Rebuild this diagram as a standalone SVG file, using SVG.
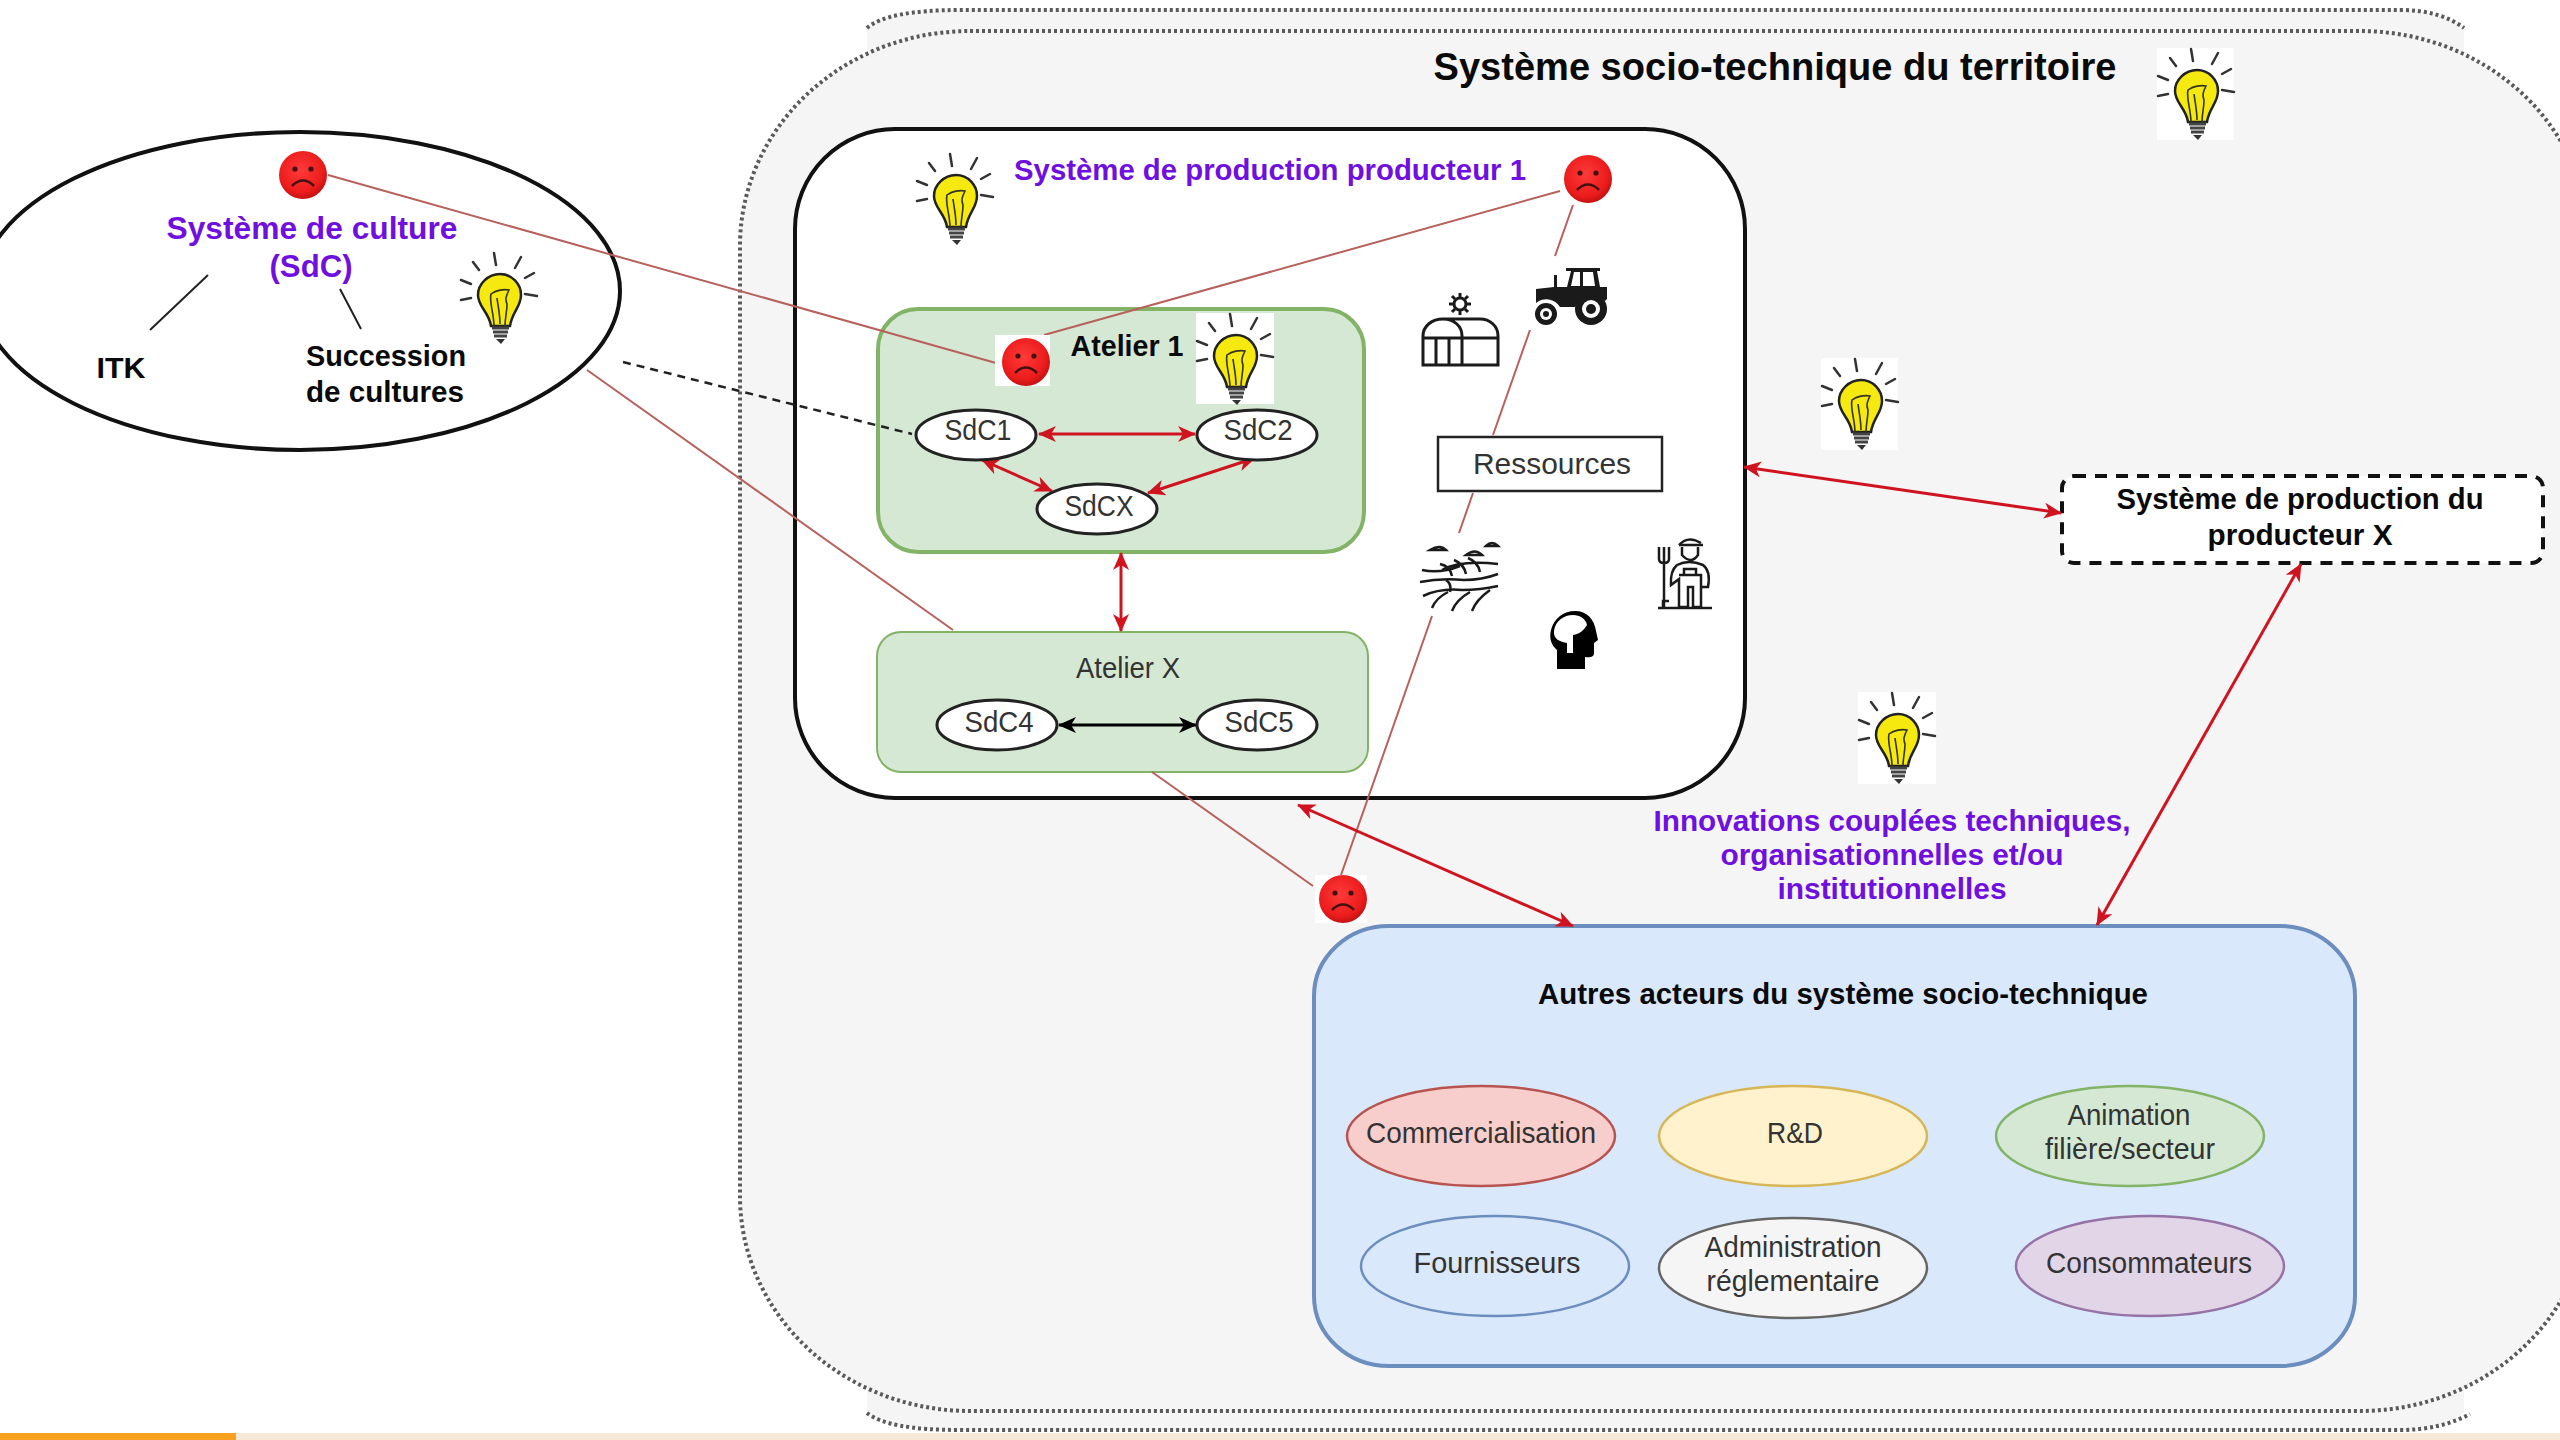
<svg xmlns="http://www.w3.org/2000/svg" width="2560" height="1440" viewBox="0 0 2560 1440">
<style>
text{font-family:"Liberation Sans",Arial,sans-serif;fill:#333;font-size:29px;text-anchor:middle}
.b{font-weight:bold;fill:#0a0a0a}
.p{font-weight:bold;fill:#6f0fe0}
.terr{stroke:#5a5a5a;stroke-width:4;stroke-dasharray:3 3;fill:none}
.sdc{fill:#fff;stroke:#222;stroke-width:3}
.red{stroke:#cf1420;stroke-width:3;fill:none;marker-start:url(#ar);marker-end:url(#ar)}
.blk{stroke:#000;stroke-width:3;fill:none;marker-start:url(#ab);marker-end:url(#ab)}
.pink{stroke:#b8605c;stroke-width:2;fill:none}
.ic{fill:none;stroke:#1a1a1a;stroke-width:3}
.act{stroke-width:2.5}
</style>
<defs>
<marker id="ar" viewBox="0 0 18 16" refX="17" refY="8" markerWidth="18" markerHeight="16" markerUnits="userSpaceOnUse" orient="auto-start-reverse"><path d="M0 0L18 8L0 16L5 8z" fill="#cf1420"/></marker>
<marker id="ab" viewBox="0 0 18 16" refX="17" refY="8" markerWidth="18" markerHeight="16" markerUnits="userSpaceOnUse" orient="auto-start-reverse"><path d="M0 0L18 8L0 16L5 8z" fill="#000"/></marker>
<radialGradient id="rg" cx=".45" cy=".4" r=".65"><stop offset="0" stop-color="#ff3a3a"/><stop offset=".7" stop-color="#ec1c1c"/><stop offset="1" stop-color="#b80f0f"/></radialGradient>
<symbol id="sad" viewBox="0 0 48 48" width="48" height="48" overflow="visible">
<circle cx="24" cy="24" r="24" fill="url(#rg)"/><circle cx="16" cy="18" r="2.6" fill="#411"/><circle cx="32" cy="18" r="2.6" fill="#411"/><path d="M13 35Q24 24 35 35" fill="none" stroke="#411" stroke-width="2.5"/>
</symbol>
<symbol id="bulb" viewBox="0 0 78 92" width="78" height="92" overflow="visible">
<g stroke="#333" stroke-width="2.5" stroke-linecap="round" fill="none"><path d="M34 1L36 13M13 10L19 18M61 5L55 16M74 21L65 26M1 28L11 32M1 48L11 46M65 42L77 44"/></g>
<path d="M40 22C52 22 61 32 61 43C61 55 52 60 50 74H31C29 60 18 55 18 43C18 32 28 22 40 22Z" fill="#f6e90f" stroke="#222" stroke-width="2.5"/>
<path d="M34 74C34 62 29 50 31 42C36 38 44 37 49 38C46 44 45 47 47 52C47 60 45 66 45 74M37 46C38 54 40 62 40 72" fill="none" stroke="#332" stroke-width="1.6"/>
<path d="M32 76H49M33 80H48M34 84H47" stroke="#444" stroke-width="3" fill="none"/><path d="M36 87H45L41 92Z" fill="#333"/>
</symbol>
</defs>

<rect id="bg" width="2560" height="1440" fill="#fff"/>

<g id="territoire">
<path d="M867 28Q880 10 960 10H2400Q2440 10 2464 28V1413Q2440 1430 2400 1430H960Q880 1430 867 1413Z" fill="#f5f5f5"/>
<path d="M867 1413Q888 1430 960 1430H2400Q2440 1430 2470 1414" class="terr"/>
<path d="M867 28Q888 10 960 10H2400Q2440 10 2464 28" class="terr"/>
<rect x="740" y="31" width="1850" height="1380" rx="230" ry="215" class="terr" style="fill:#f5f5f5"/>
<text x="1775" y="80" class="b" style="font-size:38px" textLength="683" lengthAdjust="spacingAndGlyphs">Système socio-technique du territoire</text>
</g>

<g id="production-1">
<rect x="795" y="129" width="950" height="669" rx="100" ry="100" fill="#fff" stroke="#111" stroke-width="4"/>
<text x="1270" y="180" class="p" style="font-size:29px" textLength="512" lengthAdjust="spacingAndGlyphs">Système de production producteur 1</text>
</g>
<g id="atelier-1">
<rect x="878" y="309" width="486" height="243" rx="40" fill="#d5e8d4" stroke="#82b366" stroke-width="4"/>
</g>
<g id="atelier-x">
<rect x="877" y="632" width="491" height="140" rx="24" fill="#d5e8d4" stroke="#82b366" stroke-width="2"/>
<text x="1128" y="678" textLength="104" lengthAdjust="spacingAndGlyphs">Atelier X</text>
</g>
<g id="acteurs">
<rect x="1314" y="926" width="1041" height="440" rx="75" ry="70" fill="#dae8fc" stroke="#6c8ebf" stroke-width="4"/>
<text x="1843" y="1004" class="b" textLength="610" lengthAdjust="spacingAndGlyphs">Autres acteurs du système socio-technique</text>
</g>
<g id="systeme-culture">
<ellipse cx="300" cy="291" rx="320" ry="159" fill="#fff" stroke="#111" stroke-width="4"/>
<text x="312" y="239" class="p" style="font-size:32px" textLength="291" lengthAdjust="spacingAndGlyphs">Système de culture</text>
<text x="311" y="277" class="p" style="font-size:32px" textLength="83" lengthAdjust="spacingAndGlyphs">(SdC)</text>
<text x="121" y="378" class="b" style="font-size:30px" textLength="49" lengthAdjust="spacingAndGlyphs">ITK</text>
<text x="386" y="366" class="b" style="font-size:30px" textLength="160" lengthAdjust="spacingAndGlyphs">Succession</text>
<text x="385" y="402" class="b" style="font-size:30px" textLength="158" lengthAdjust="spacingAndGlyphs">de cultures</text>
<path d="M208 275L150 330M340 289L361 329" stroke="#222" stroke-width="2" fill="none"/>
</g>
<g id="producteur-x">
<rect x="2062" y="476" width="481" height="87" rx="12" fill="#fff" stroke="#111" stroke-width="4" stroke-dasharray="12 9"/>
<text x="2300" y="509" class="b" style="font-size:30px" textLength="367" lengthAdjust="spacingAndGlyphs">Système de production du</text>
<text x="2300" y="545" class="b" style="font-size:30px" textLength="185" lengthAdjust="spacingAndGlyphs">producteur X</text>
</g>
<g id="innovations">
<text x="1892" y="831" class="p" textLength="477" lengthAdjust="spacingAndGlyphs">Innovations couplées techniques,</text>
<text x="1892" y="865" class="p" textLength="343" lengthAdjust="spacingAndGlyphs">organisationnelles et/ou</text>
<text x="1892" y="899" class="p" textLength="229" lengthAdjust="spacingAndGlyphs">institutionnelles</text>
</g>

<g id="connecteurs">
<path class="pink" d="M328 175L996 363"/>
<path class="pink" d="M1560 191L1044 335"/>
<path class="pink" d="M1573 205L1555 256"/>
<path class="pink" d="M1530 330L1493 435"/>
<path class="pink" d="M1473 493L1459 533"/>
<path class="pink" d="M1432 616L1341 875"/>
<path class="pink" d="M587 370L953 630"/>
<path class="pink" d="M1152 772L1313 886"/>
<path d="M623 362L912 434" stroke="#222" stroke-width="2.5" stroke-dasharray="8 6" fill="none"/>
<path class="red" d="M1039 434H1195"/>
<path class="red" d="M982 460L1052 491"/>
<path class="red" d="M1255 458L1148 493"/>
<path class="red" d="M1121 553V631"/>
<path class="blk" d="M1059 725H1196"/>
<path class="red" d="M1744 467L2061 513"/>
<path class="red" d="M1298 805L1573 926"/>
<path class="red" d="M2301 564L2097 925"/>
</g>

<g id="sdc1"><ellipse class="sdc" cx="976" cy="435" rx="60" ry="25"/><text x="978" y="440" textLength="67" lengthAdjust="spacingAndGlyphs">SdC1</text></g>
<g id="sdc2"><ellipse class="sdc" cx="1257" cy="435" rx="60" ry="25"/><text x="1258" y="440" textLength="69" lengthAdjust="spacingAndGlyphs">SdC2</text></g>
<g id="sdcx"><ellipse class="sdc" cx="1097" cy="509" rx="60" ry="25"/><text x="1099" y="516" textLength="69" lengthAdjust="spacingAndGlyphs">SdCX</text></g>
<g id="sdc4"><ellipse class="sdc" cx="997" cy="725" rx="60" ry="25"/><text x="999" y="732" textLength="69" lengthAdjust="spacingAndGlyphs">SdC4</text></g>
<g id="sdc5"><ellipse class="sdc" cx="1257" cy="725" rx="60" ry="25"/><text x="1259" y="732" textLength="69" lengthAdjust="spacingAndGlyphs">SdC5</text></g>

<g id="ressources"><rect x="1438" y="437" width="224" height="54" fill="#fff" stroke="#222" stroke-width="2.5"/><text x="1552" y="474" style="font-size:30px" textLength="158" lengthAdjust="spacingAndGlyphs">Ressources</text></g>

<g id="commercialisation"><ellipse class="act" cx="1481" cy="1136" rx="134" ry="50" fill="#f8cecc" stroke="#b85450"/><text x="1481" y="1143" textLength="230" lengthAdjust="spacingAndGlyphs">Commercialisation</text></g>
<g id="rd"><ellipse class="act" cx="1793" cy="1136" rx="134" ry="50" fill="#fff2cc" stroke="#d6b656"/><text x="1795" y="1143" textLength="56" lengthAdjust="spacingAndGlyphs">R&amp;D</text></g>
<g id="animation"><ellipse class="act" cx="2130" cy="1136" rx="134" ry="50" fill="#d5e8d4" stroke="#82b366"/><text x="2129" y="1125" textLength="123" lengthAdjust="spacingAndGlyphs">Animation</text><text x="2130" y="1159" textLength="170" lengthAdjust="spacingAndGlyphs">filière/secteur</text></g>
<g id="fournisseurs"><ellipse class="act" cx="1495" cy="1266" rx="134" ry="50" fill="#dae8fc" stroke="#6c8ebf"/><text x="1497" y="1273" textLength="167" lengthAdjust="spacingAndGlyphs">Fournisseurs</text></g>
<g id="administration"><ellipse class="act" cx="1793" cy="1268" rx="134" ry="50" fill="#f5f5f5" stroke="#666"/><text x="1793" y="1257" textLength="177" lengthAdjust="spacingAndGlyphs">Administration</text><text x="1793" y="1291" textLength="173" lengthAdjust="spacingAndGlyphs">réglementaire</text></g>
<g id="consommateurs"><ellipse class="act" cx="2150" cy="1266" rx="134" ry="50" fill="#e1d5e7" stroke="#9673a6"/><text x="2149" y="1273" textLength="206" lengthAdjust="spacingAndGlyphs">Consommateurs</text></g>

<g id="smileys">
<use href="#sad" x="279" y="151"/>
<rect x="995" y="335" width="55" height="51" fill="#fff"/>
<use href="#sad" x="1002" y="338"/>
<use href="#sad" x="1564" y="155"/>
<rect x="1315" y="875" width="52" height="48" fill="#fff"/>
<use href="#sad" x="1319" y="875"/>
</g>
<text x="1127" y="356" class="b" textLength="113" lengthAdjust="spacingAndGlyphs">Atelier 1</text>

<g id="ampoules">
<use href="#bulb" x="460" y="252"/>
<use href="#bulb" x="916" y="153"/>
<rect x="1196" y="313" width="78" height="91" fill="#fff"/><use href="#bulb" x="1196" y="313"/>
<rect x="2157" y="48" width="77" height="92" fill="#fff"/><use href="#bulb" x="2157" y="48"/>
<rect x="1821" y="358" width="77" height="92" fill="#fff"/><use href="#bulb" x="1821" y="358"/>
<rect x="1858" y="692" width="78" height="92" fill="#fff"/><use href="#bulb" x="1858" y="692"/>
</g>

<g id="icones">
<g id="tracteur" transform="translate(1533 267)" fill="#1a1a1a" stroke="none">
<path d="M33 1H67V4H64L67 20H74V32L72 34A20 20 0 0 0 42 40H27A16 16 0 0 0 3 36V22L21 20V8H24V20H34L38 4H33Z"/>
<path d="M41 5L38 19H47V5ZM50 5V19H62L60 5Z" fill="#fff"/>
<circle cx="58" cy="42" r="16"/><circle cx="58" cy="42" r="9" fill="#fff"/><circle cx="58" cy="42" r="5"/>
<circle cx="13" cy="47" r="11"/><circle cx="13" cy="47" r="6" fill="#fff"/><circle cx="13" cy="47" r="3"/>
</g>
<g id="serre" class="ic" transform="translate(1422 292)">
<circle cx="38" cy="12" r="6"/><path d="M38 1V5M38 19V23M27 12H31M45 12H49M30 4L33 7M43 17L46 20M46 4L43 7M33 17L30 20"/>
<path d="M1 73V44C1 34 10 27 21 27C32 27 40 34 40 44V73ZM21 27H58C68 27 76 34 76 44V73H40M1 46H40M40 46H76M14 46V73M27 46V73"/>
</g>
<g id="champ" class="ic" transform="translate(1420 540)" style="stroke-width:2.5">
<path d="M10 10Q20 4 26 10ZM46 15Q55 8 62 15ZM66 6Q72 0 78 6Z"/>
<path d="M22 30Q40 20 78 24M2 30Q20 34 40 26M0 42Q20 38 44 40Q62 40 78 34M3 56Q20 48 42 50Q60 50 78 46"/>
<path d="M20 24Q30 26 32 36M34 20Q44 24 46 34M48 18Q58 22 60 32M26 40Q32 44 30 52M12 68Q16 58 28 52M32 71Q36 60 50 52M52 71Q56 60 70 50"/>
</g>
<g id="agriculteur" class="ic" transform="translate(1655 535)" style="stroke-width:2.5">
<path d="M3 73H57"/><path d="M4 12V24Q4 28 9 28Q14 28 14 24V12M9 12V72M14 66H8V72"/>
<path d="M24 10Q33 0 46 8M24 10H48"/><path d="M27 12V20Q36 30 43 20V12"/>
<path d="M22 30Q34 24 48 30Q56 36 53 52H46V72M22 30Q15 36 16 50L24 44V72H33V52H38V72H46V40H24"/><path d="M29 40V34H41V40"/>
</g>
<g id="tete" transform="translate(1550 611)">
<path d="M7 58V39C1 34-1 27 1 19C4 7 14 0 25 0C37 0 44 8 46 20L48 29L44 32V42C44 46 40 47 35 46V58Z" fill="#000"/>
<path d="M4 20C5 10 14 4 23 4C30 4 36 8 37 14C34 19 30 23 23 24V42H17V32C10 31 3 28 4 20Z" fill="#fff"/>
</g>
</g>

<g id="bande">
<rect x="0" y="1433" width="2560" height="7" fill="#f7e9d7"/>
<rect x="0" y="1433" width="236" height="7" fill="#f7a11f"/>
</g>
</svg>
